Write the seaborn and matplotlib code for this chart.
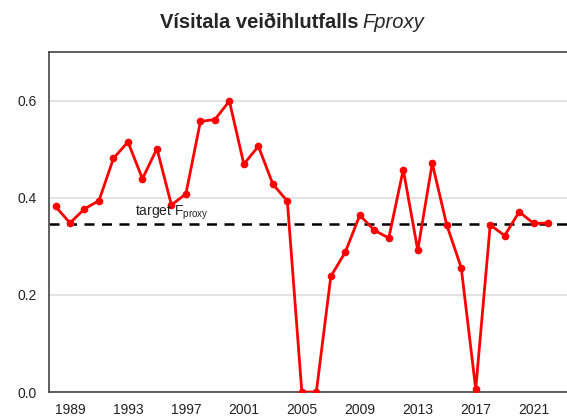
import pandas as pd
import matplotlib
matplotlib.use("Agg")
import matplotlib.pyplot as plt
import seaborn as sns

# index values
years = list(range(1988, 2023))
fproxy = [0.382, 0.348, 0.377, 0.394, 0.481, 0.515, 0.439, 0.501, 0.385, 0.408,
          0.557, 0.561, 0.599, 0.469, 0.506, 0.428, 0.393, 0.0, 0.0, 0.238,
          0.288, 0.364, 0.333, 0.317, 0.458, 0.292, 0.471, 0.344, 0.256, 0.006,
          0.344, 0.322, 0.371, 0.347, 0.348]
target = 0.345
x_ticks = [1989, 1993, 1997, 2001, 2005, 2009, 2013, 2017, 2021]
y_ticks = [0.0, 0.2, 0.4, 0.6]

df = pd.DataFrame({'Year': years, 'Fproxy': fproxy})

sns.set_style("white")
plt.rcParams['font.family'] = ['Liberation Sans', 'DejaVu Sans']
plt.rcParams['mathtext.fontset'] = 'custom'
plt.rcParams['mathtext.rm'] = 'Liberation Sans'

fig = plt.figure(figsize=(5.67, 4.19), dpi=100)
ax = fig.add_axes([0.0864, 0.0644, 0.9136, 0.8115])

for y in y_ticks:
    ax.axhline(y, color='#dddddd', lw=1.2, zorder=0)

sns.lineplot(data=df, x='Year', y='Fproxy', ax=ax, color='red', lw=2,
             marker='o', markersize=5.5, markeredgewidth=0, zorder=3)
ax.axhline(target, color='black', lw=1.8, ls=(0, (4, 3)), zorder=2)
ax.text(1996.0, 0.351, r'target F$_{\mathrm{proxy}}$', ha='center', va='bottom',
        fontsize=10, color='#222222')

ax.set_xlim(1987.55, 2023.3)
ax.set_ylim(0, 0.7)
ax.set_xticks(x_ticks)
ax.set_yticks(y_ticks)
ax.set_yticklabels(['0.0', '0.2', '0.4', '0.6'])
ax.set_xlabel('')
ax.set_ylabel('')
ax.tick_params(axis='both', direction='out', length=4, width=1.4, color='#333333',
               labelsize=10, labelcolor='#222222')
ax.tick_params(axis='x', pad=4)
ax.tick_params(axis='y', pad=5)
for side in ['left', 'bottom', 'top']:
    ax.spines[side].set_color('#444444')
    ax.spines[side].set_linewidth(1.2)
ax.spines['right'].set_visible(False)

fig.text(0.632, 0.947, 'Vísitala veiðihlutfalls', ha='right', va='center',
         fontsize=14.5, fontweight='bold')
fig.text(0.639, 0.947, 'Fproxy', ha='left', va='center', fontsize=14.5,
         fontstyle='italic')

fig.savefig('out.png', dpi=100)
